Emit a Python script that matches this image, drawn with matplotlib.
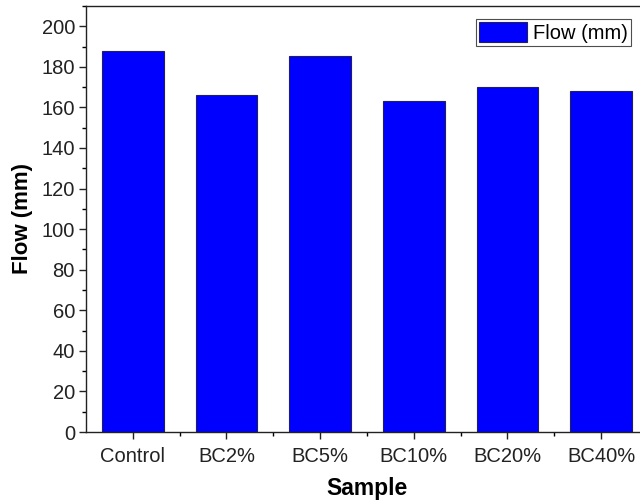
import matplotlib
matplotlib.use("Agg")
import matplotlib.pyplot as plt
from matplotlib.ticker import MultipleLocator, FixedLocator

samples = ["Control", "BC2%", "BC5%", "BC10%", "BC20%", "BC40%"]
flow = [188, 166, 185.5, 163, 170, 168]

plt.rcParams["font.family"] = ["Liberation Sans", "DejaVu Sans"]

fig = plt.figure(figsize=(6.4, 5.04), dpi=100)
ax = fig.add_axes([86 / 640, 72 / 504, 562 / 640, 426 / 504])

x = list(range(len(samples)))
ax.bar(x, flow, width=0.66, color="#0000ff", edgecolor="#202060",
       linewidth=0.8, label="Flow (mm)", zorder=2)

ax.set_xlim(-0.5, len(samples) - 0.5)
ax.set_ylim(0, 210)
ax.set_xticks(x)
ax.set_xticklabels(samples)
ax.xaxis.set_minor_locator(FixedLocator([i + 0.5 for i in x[:-1]]))
ax.yaxis.set_major_locator(MultipleLocator(20))
ax.yaxis.set_minor_locator(MultipleLocator(10))

ax.tick_params(axis="both", which="major", direction="out", length=5,
               width=1, labelsize=14.5, colors="#222222")
ax.tick_params(axis="both", which="minor", direction="out", length=3, width=1)
ax.tick_params(axis="y", pad=3)
ax.tick_params(axis="x", pad=6)

for s in ax.spines.values():
    s.set_linewidth(1.0)
    s.set_color("#222222")

ax.set_xlabel("Sample", fontsize=16.5, fontweight="bold", labelpad=8)
ax.set_ylabel("Flow (mm)", fontsize=16, fontweight="bold", labelpad=6)

leg = ax.legend(loc="upper right", bbox_to_anchor=(631 / 640, (504 - 19) / 504),
                bbox_transform=fig.transFigure, fontsize=14.5, frameon=True,
                fancybox=False, handlelength=2.4, handleheight=1.15,
                borderpad=0.15, handletextpad=0.3, borderaxespad=0)
leg.get_frame().set_edgecolor("#222222")
leg.get_frame().set_linewidth(0.8)

fig.savefig("out.png", dpi=100)
